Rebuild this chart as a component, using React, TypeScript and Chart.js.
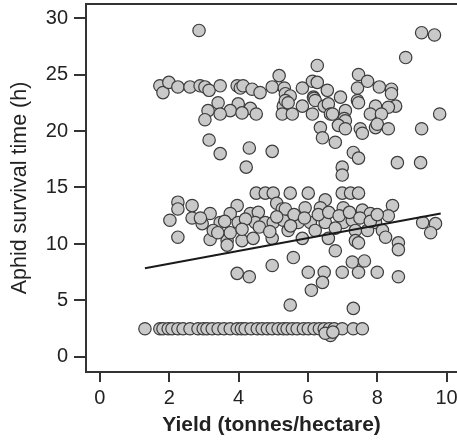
import { useEffect, useRef } from "react";
import { Chart, registerables } from "chart.js";

Chart.register(...registerables);

const xTicks = [0, 2, 4, 6, 8, 10];
const yTicks = [0, 5, 10, 15, 20, 25, 30];
const xTitle = "Yield (tonnes/hectare)";
const yTitle = "Aphid survival time (h)";

// Points above ~16 h
const upperPoints: [number, number][] = [
  [2.86, 28.9], [9.28, 28.7], [9.65, 28.5], [8.82, 26.5], [6.27, 25.8], [5.17, 24.9], [7.46, 25.0],
  [1.73, 24.0], [1.82, 23.4], [1.99, 24.3], [2.25, 23.9], [2.6, 23.9], [2.89, 24.0], [3.03, 23.9],
  [3.15, 23.6], [3.47, 24.0], [3.96, 24.0], [4.05, 23.8], [4.13, 24.0], [4.39, 23.7], [4.62, 23.4],
  [4.97, 23.9], [5.32, 23.8], [5.84, 23.8], [6.13, 24.4], [6.27, 24.3], [6.56, 23.6], [6.94, 23.0],
  [7.43, 23.8], [7.72, 24.4], [8.06, 23.9], [8.41, 23.7], [8.41, 23.3], [8.53, 22.2], [5.35, 23.3],
  [5.49, 23.1], [6.16, 23.0],
  [3.41, 22.5], [3.99, 22.4], [4.34, 22.0], [5.29, 22.2], [5.35, 22.7], [5.84, 22.2], [5.43, 22.5],
  [6.18, 22.9], [6.21, 22.7], [6.47, 22.2], [6.59, 22.4], [7.43, 22.7], [7.46, 22.5], [7.95, 22.2],
  [8.32, 22.1],
  [3.12, 21.8], [3.76, 21.8], [3.47, 21.5], [4.1, 21.6], [4.51, 21.5], [5.26, 21.5], [5.55, 21.5],
  [6.13, 21.5], [6.65, 21.5], [6.71, 21.5], [7.08, 21.8], [7.05, 21.1], [7.8, 21.5], [8.12, 21.5],
  [9.8, 21.5], [3.03, 21.0],
  [6.36, 20.3], [7.08, 20.9], [6.88, 20.5], [7.08, 20.2], [7.51, 20.2], [7.57, 19.8], [7.95, 20.3],
  [8.0, 20.6], [8.32, 20.2], [9.28, 20.2], [6.42, 19.4], [6.79, 19.0], [3.15, 19.2],
  [3.47, 18.0], [4.31, 18.5], [4.97, 18.2], [7.31, 18.1], [7.46, 17.6],
  [4.22, 16.8], [6.99, 16.8], [6.99, 16.1], [8.58, 17.2], [9.25, 17.2],
];

// Points between ~9.5 and ~15 h
const midPoints: [number, number][] = [
  [4.51, 14.5], [4.77, 14.5], [5.0, 14.5], [5.49, 14.5], [6.01, 14.5], [6.99, 14.5], [7.23, 14.5], [7.46, 14.5],
  [2.25, 13.7], [2.25, 13.1], [2.66, 13.4], [3.96, 13.4], [5.1, 13.6], [5.26, 13.1], [3.18, 12.7],
  [3.76, 12.7], [4.34, 12.7], [4.57, 12.8], [2.02, 12.1], [2.66, 12.3], [2.95, 11.8], [3.47, 11.9],
  [3.99, 11.9], [4.48, 11.9], [4.77, 11.9], [5.0, 11.9], [5.29, 12.1], [2.25, 10.6], [3.18, 10.4],
  [3.67, 10.3], [4.1, 10.3], [4.42, 10.5], [4.97, 10.5], [3.76, 11.0], [3.27, 11.2], [3.67, 9.9],
  [6.5, 13.9], [8.44, 13.4], [8.32, 12.5], [5.35, 13.1], [5.92, 13.2], [6.36, 13.2], [7.02, 13.2],
  [7.57, 13.0], [7.8, 12.7], [5.72, 11.9], [6.07, 11.9], [6.5, 11.9], [7.02, 11.9], [7.28, 12.1],
  [7.95, 11.9], [5.43, 11.2], [6.21, 11.2], [6.79, 11.4], [7.37, 11.2], [7.72, 11.2], [8.15, 11.2],
  [8.24, 10.6], [9.31, 11.9], [9.68, 11.8], [9.54, 11.0], [6.59, 10.5], [5.84, 10.5], [7.37, 10.3],
  [8.61, 10.1], [3.6, 12.0], [4.2, 12.2], [4.6, 11.5], [5.1, 12.4], [5.6, 12.6], [5.5, 11.6],
  [5.9, 12.3], [6.3, 12.6], [6.6, 12.8], [6.9, 12.5], [7.2, 12.8], [7.5, 12.3], [7.8, 12.0],
  [8.0, 12.6], [4.1, 11.3], [4.9, 11.1], [3.4, 11.0], [2.9, 12.3],
];

// Points between ~4 and ~9.5 h
const lowerPoints: [number, number][] = [
  [4.97, 8.1], [3.96, 7.4], [4.31, 7.1], [5.49, 4.6], [5.58, 8.8], [6.79, 9.4], [7.46, 10.1],
  [8.61, 9.5], [6.01, 7.5], [6.47, 7.5], [6.99, 7.5], [7.46, 7.5], [8.0, 7.5], [7.28, 8.4],
  [7.63, 8.5], [8.61, 7.1], [6.42, 6.6], [6.1, 5.9], [7.31, 4.3],
];

// Points at ~2.5 h
const bottomRow: [number, number][] = [
  [1.3, 2.5], [1.73, 2.5], [1.82, 2.5], [1.97, 2.5], [2.08, 2.5], [2.25, 2.5], [2.4, 2.5], [2.6, 2.5],
  [2.83, 2.5], [2.98, 2.5], [3.09, 2.5], [3.24, 2.5], [3.41, 2.5], [3.58, 2.5], [3.76, 2.5], [3.96, 2.5],
  [4.08, 2.5], [4.19, 2.5], [4.36, 2.5], [4.54, 2.5], [4.68, 2.5], [4.83, 2.5], [4.97, 2.5], [5.14, 2.5],
  [5.29, 2.5], [5.4, 2.5], [5.55, 2.5], [5.69, 2.5], [5.87, 2.5], [6.01, 2.5], [6.18, 2.5], [6.33, 2.5],
  [6.47, 2.5], [6.62, 2.5], [6.76, 2.5], [6.99, 2.5], [7.31, 2.5], [7.57, 2.5],
  [6.65, 1.9], [6.5, 2.1], [6.72, 2.2],
];

// Fitted regression line end points
const fitLine: [number, number][] = [
  [1.3, 7.85],
  [9.83, 12.7],
];

const FONT = "'Liberation Sans', Arial, Helvetica, sans-serif";
const INK = "#222222";
const AXIS = "#333333";

const topBorder = {
  id: "topBorder",
  afterDraw(chart: any) {
    const { ctx, chartArea } = chart;
    ctx.save();
    ctx.strokeStyle = AXIS;
    ctx.lineWidth = 2;
    ctx.beginPath();
    ctx.moveTo(chartArea.left - 1, chartArea.top);
    ctx.lineTo(chartArea.right, chartArea.top);
    ctx.stroke();
    ctx.restore();
  },
};

export default function App() {
  const ref = useRef<HTMLCanvasElement | null>(null);

  useEffect(() => {
    if (!ref.current) return;
    const toXY = (arr: [number, number][]) => arr.map(([x, y]) => ({ x, y }));
    const allPoints = [...upperPoints, ...midPoints, ...lowerPoints, ...bottomRow];
    const chart = new Chart(ref.current, {
      type: "scatter",
      data: {
        datasets: [
          {
            data: toXY(fitLine),
            showLine: true,
            borderColor: "#1a1a1a",
            borderWidth: 2,
            pointRadius: 0,
            pointHoverRadius: 0,
          } as any,
          {
            data: toXY(allPoints),
            backgroundColor: "#c9c9c9",
            borderColor: "#3c3c3c",
            borderWidth: 1.2,
            pointRadius: 6.2,
            pointHoverRadius: 6.2,
          },
        ],
      },
      options: {
        responsive: false,
        animation: false,
        events: [],
        layout: { autoPadding: false, padding: { top: 4, right: 0, left: 0, bottom: 0 } },
        plugins: {
          legend: { display: false },
          tooltip: { enabled: false },
        },
        scales: {
          x: {
            type: "linear",
            min: -0.4,
            max: 10.3,
            afterBuildTicks: (s: any) => {
              s.ticks = xTicks.map((v) => ({ value: v }));
            },
            afterFit: (s: any) => {
              s.height = 68;
              s.paddingLeft = 0;
              s.paddingRight = 0;
            },
            border: { display: true, color: AXIS, width: 2 },
            grid: {
              display: true,
              drawOnChartArea: false,
              drawTicks: true,
              tickLength: 10,
              tickColor: AXIS,
              tickWidth: 2,
              color: AXIS,
              lineWidth: 2,
            },
            ticks: {
              color: INK,
              padding: 4,
              font: { family: FONT, size: 20 },
              maxRotation: 0,
            },
            title: {
              display: true,
              text: xTitle,
              color: INK,
              font: { family: FONT, size: 21, weight: "bold" },
              padding: { top: 0, bottom: 2 },
            },
          },
          y: {
            type: "linear",
            min: -1.33,
            max: 31.24,
            afterBuildTicks: (s: any) => {
              s.ticks = yTicks.map((v) => ({ value: v }));
            },
            afterFit: (s: any) => {
              s.width = 86;
              s.paddingTop = 0;
              s.paddingBottom = 0;
            },
            border: { display: true, color: AXIS, width: 2 },
            grid: {
              display: true,
              drawOnChartArea: false,
              drawTicks: true,
              tickLength: 12,
              tickColor: AXIS,
              tickWidth: 2,
              color: AXIS,
              lineWidth: 2,
            },
            ticks: {
              color: INK,
              padding: 6,
              font: { family: FONT, size: 20 },
            },
            title: {
              display: true,
              text: yTitle,
              color: INK,
              font: { family: FONT, size: 21.5 },
              padding: { top: 7, bottom: 0 },
            },
          },
        },
      },
      plugins: [topBorder],
    });
    return () => chart.destroy();
  }, []);

  return (
    <div style={{ position: "fixed", left: 0, top: 0, width: 457, height: 440, background: "#fff" }}>
      <canvas ref={ref} width={457} height={440} style={{ display: "block" }} />
    </div>
  );
}
